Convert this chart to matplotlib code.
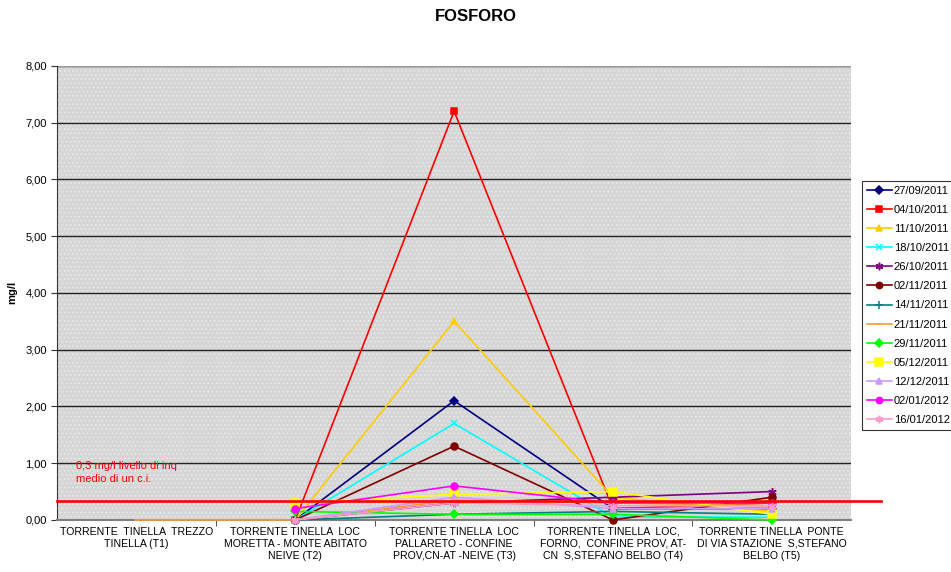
import numpy as np
import matplotlib
matplotlib.use("Agg")
import matplotlib.pyplot as plt
from matplotlib.patches import Rectangle

plt.rcParams['font.family'] = ['Liberation Sans', 'DejaVu Sans']
plt.rcParams['hatch.linewidth'] = 0.6

stations = [
    "TORRENTE  TINELLA  TREZZO\nTINELLA (T1)",
    "TORRENTE TINELLA  LOC\nMORETTA - MONTE ABITATO\nNEIVE (T2)",
    "TORRENTE TINELLA  LOC\nPALLARETO - CONFINE\nPROV,CN-AT -NEIVE (T3)",
    "TORRENTE TINELLA  LOC,\nFORNO,  CONFINE PROV, AT-\nCN  S,STEFANO BELBO (T4)",
    "TORRENTE TINELLA  PONTE\nDI VIA STAZIONE  S,STEFANO\nBELBO (T5)",
]

dates = ["27/09/2011", "04/10/2011", "11/10/2011", "18/10/2011", "26/10/2011",
         "02/11/2011", "14/11/2011", "21/11/2011", "29/11/2011", "05/12/2011",
         "12/12/2011", "02/01/2012", "16/01/2012"]

nan = np.nan
v_2709 = [nan, 0.00, 2.10, 0.20, 0.20]
v_0410 = [nan, 0.00, 7.20, 0.20, 0.30]
v_1110 = [nan, 0.00, 3.50, 0.40, 0.15]
v_1810 = [nan, 0.00, 1.70, 0.05, 0.05]
v_2610 = [nan, 0.00, 0.30, 0.40, 0.50]
v_0211 = [nan, 0.00, 1.30, 0.00, 0.40]
v_1411 = [nan, 0.00, 0.10, 0.15, 0.10]
v_2111 = [0.00, 0.00, 0.35, 0.30, 0.25]
v_2911 = [nan, 0.15, 0.10, 0.10, 0.00]
v_0512 = [nan, 0.30, 0.45, 0.50, 0.10]
v_1212 = [nan, 0.00, 0.40, 0.20, 0.20]
v_0201 = [nan, 0.20, 0.60, 0.30, 0.30]
v_1601 = [nan, 0.00, 0.30, 0.25, 0.25]

series = [v_2709, v_0410, v_1110, v_1810, v_2610, v_0211, v_1411,
          v_2111, v_2911, v_0512, v_1212, v_0201, v_1601]

limite = 0.33

styles = [
    ("#000080", "D", 4),
    ("#FF0000", "s", 5),
    ("#FFCC00", "^", 5),
    ("#00FFFF", "x", 5),
    ("#800080", (6, 2, 0), 6),
    ("#800000", "o", 5),
    ("#008080", "+", 6),
    ("#FF9933", "_", 3),
    ("#00FF00", "D", 4),
    ("#FFFF00", "s", 6),
    ("#CC99FF", "^", 5),
    ("#FF00FF", "o", 5),
    ("#FF99CC", (6, 2, 0), 6),
]

fig = plt.figure(figsize=(9.51, 5.72), dpi=100)
ax = fig.add_axes([0.06, 0.091, 0.835, 0.794])

# dotted grey background of the plot area
ax.set_facecolor("#d6d6d6")
ax.add_patch(Rectangle((0, 0), 1, 1, transform=ax.transAxes, facecolor="none",
                       edgecolor="#ebebeb", hatch="....", linewidth=0, zorder=0))

x = np.arange(len(stations))
for vals, d, (c, m, ms) in zip(series, dates, styles):
    ax.plot(x, vals, color=c, marker=m, markersize=ms, linewidth=1.2,
            markeredgecolor=c, markeredgewidth=1.1, label=d, zorder=4,
            clip_on=False)

ax.axhline(limite, xmin=0, xmax=1.037, color="#FF0000", linewidth=1.9,
           clip_on=False, zorder=5)
ax.text(-0.38, 0.63, "0,3 mg/l livello di inq\nmedio di un c.i.", color="#FF0000",
        fontsize=8, va="bottom", ha="left", linespacing=1.45)

ax.set_xlim(-0.5, len(stations) - 0.5)
ax.set_ylim(0, 8)
ax.set_yticks(np.arange(0, 9))
ax.set_yticklabels([f"{v:.2f}".replace(".", ",") for v in range(9)], fontsize=8)
ax.yaxis.grid(True, color="#222222", linewidth=1.0)
ax.set_axisbelow(True)

ax.set_xticks(x)
ax.set_xticklabels(stations, fontsize=7.6, linespacing=1.25)
ax.tick_params(axis="x", length=0, pad=5)
ax.set_xticks(np.arange(0.5, len(stations) - 0.5), minor=True)
ax.tick_params(axis="x", which="minor", length=4, color="#333333", direction="out")
ax.tick_params(axis="y", length=4, color="#333333")

for side in ["top", "right"]:
    ax.spines[side].set_visible(False)
ax.spines["left"].set_color("#333333")
ax.spines["bottom"].set_color("#808080")
ax.spines["bottom"].set_linewidth(1.5)
ax.axhline(8, color="#999999", linewidth=1.5)

ax.set_ylabel("mg/l", fontsize=8, fontweight="bold", labelpad=6)
fig.suptitle("FOSFORO", fontsize=12, fontweight="bold", x=0.5, y=0.985)

leg = fig.legend(loc="upper left", bbox_to_anchor=(0.906, 0.684), fontsize=8,
                 frameon=True, fancybox=False, edgecolor="black",
                 handlelength=2.3, labelspacing=0.82, borderpad=0.45,
                 handletextpad=0.15, borderaxespad=0, markerscale=0.9)
leg.get_frame().set_linewidth(0.8)

fig.savefig("out.png", dpi=100)
